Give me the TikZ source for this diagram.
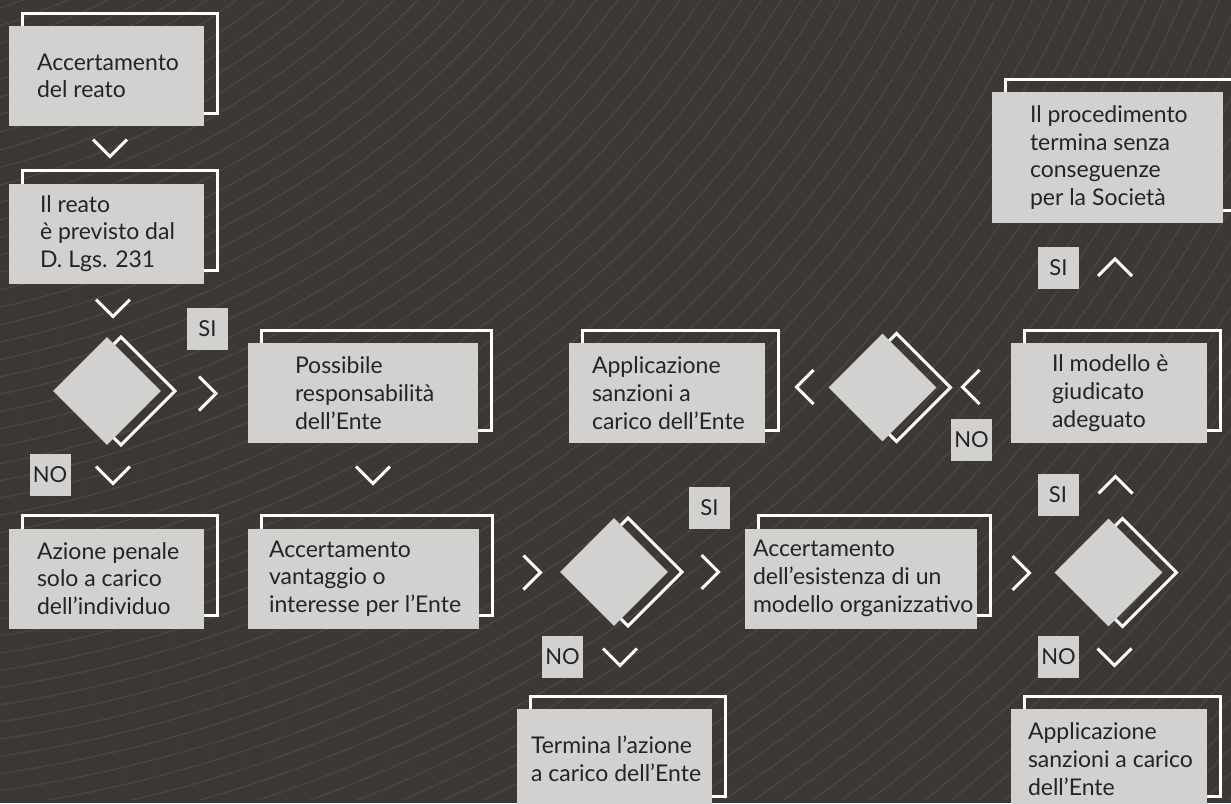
\documentclass[tikz,border=0pt]{standalone}
\usepackage{fontspec}
\setmainfont{Lato}
\usetikzlibrary{positioning,shapes.geometric,shadows}
\definecolor{bgdark}{HTML}{3C3935}
\definecolor{bgline}{HTML}{4A4642}
\definecolor{boxgray}{HTML}{D3D1CF}
\definecolor{ink}{HTML}{262422}
\tikzset{
	stepbox/.style={rectangle, fill=boxgray, minimum height=100pt, inner sep=0pt,
		general shadow={shadow xshift=13pt, shadow yshift=13pt, draw=white, line width=3pt}},
	choice/.style={diamond, fill=boxgray, minimum width=108pt, minimum height=108pt, inner sep=0pt,
		general shadow={shadow xshift=14pt, shadow yshift=0pt, draw=white, line width=3pt}},
	answer/.style={fill=boxgray, minimum width=41pt, minimum height=42pt, inner sep=0pt,
		text=ink, font=\fontsize{22pt}{24pt}\selectfont},
	boxtext/.style={align=left, inner sep=0pt, text=ink, font=\fontsize{23pt}{27.7pt}\selectfont},
	chevline/.style={draw=white, line width=3pt, line join=miter},
	chev/.pic={\draw[chevline] (-17pt,-8.5pt) -- (0pt,8.5pt) -- (17pt,-8.5pt);}
}
\begin{document}
\begin{tikzpicture}[x=1pt,y=-1pt]
	\useasboundingbox (0,0) rectangle (1231,803);
	\fill[bgdark] (0,0) rectangle (1231,803);
	\begin{scope}
		\clip (0,0) rectangle (1231,799);
		\coordinate (hub) at (-200,-600);
		\foreach \r in {640,657,...,2010}
			\draw[bgline, line width=1.3pt] (hub) ++(20:\r) arc[start angle=-20, end angle=-85, radius=\r pt];
	\end{scope}
	\node (acc) [stepbox, minimum width=195pt] at (106.5,76) {};
	\node (acct) [boxtext, right=28pt of acc.west] {Accertamento\\del reato};
	\node (reato) [stepbox, minimum width=195pt] at (106.5,233.5) {};
	\node (reatot) [boxtext, right=31pt of reato.west] {Il reato\\è previsto dal\\D. Lgs. 231};
	\node (poss) [stepbox, minimum width=230pt] at (363,393) {};
	\node (posst) [boxtext, right=47pt of poss.west] {Possibile\\responsabilità\\dell’Ente};
	\node (azione) [stepbox, minimum width=195pt] at (106.5,578.5) {};
	\node (azionet) [boxtext, right=28pt of azione.west] {Azione penale\\solo a carico\\dell’individuo};
	\node (vant) [stepbox, minimum width=231pt] at (363.5,578.5) {};
	\node (vantt) [boxtext, right=21pt of vant.west] {Accertamento\\vantaggio o\\interesse per l’Ente};
	\node (esist) [stepbox, minimum width=232pt] at (861,578.5) {};
	\node (esistt) [boxtext, right=8pt of esist.west] {Accertamento\\dell’esistenza di un\\modello organizzativo};
	\node (termina) [stepbox, minimum width=195pt] at (614.5,759) {};
	\node (terminat) [boxtext, right=14pt of termina.west] {Termina l’azione\\a carico dell’Ente};
	\node (sanzb) [stepbox, minimum width=196pt] at (1109,759) {};
	\node (sanzbt) [boxtext, right=17pt of sanzb.west] {Applicazione\\sanzioni a carico\\dell’Ente};
	\node (adeg) [stepbox, minimum width=196pt] at (1109,393) {};
	\node (adegt) [boxtext, right=41pt of adeg.west] {Il modello è\\giudicato\\adeguato};
	\node (sanzm) [stepbox, minimum width=196pt] at (667,393) {};
	\node (sanzmt) [boxtext, right=23pt of sanzm.west] {Applicazione\\sanzioni a\\carico dell’Ente};
	\node (proc) [stepbox, minimum width=231pt, minimum height=131pt] at (1107.5,157.5) {};
	\node (proct) [boxtext, right=38pt of proc.west] {Il procedimento\\termina senza\\conseguenze\\per la Società};
	\node (d1) [choice] at (107,391) {};
	\node (d2) [choice] at (614,572) {};
	\node (d3) [choice] at (1108.5,572.5) {};
	\node (d4) [choice] at (882.5,387.5) {};
	\node (si1) [answer] at (207.5,329) {SI};
	\node (no1) [answer] at (50,474.5) {NO};
	\node (si2) [answer] at (709.5,508) {SI};
	\node (no2) [answer] at (562.5,656.5) {NO};
	\node (si3) [answer] at (1058,495) {SI};
	\node (no3) [answer] at (1058.5,657) {NO};
	\node (si4) [answer] at (1058.5,268) {SI};
	\node (no4) [answer] at (971.5,439.5) {NO};
	\pic [rotate=180] at (110,148) {chev};
	\pic [rotate=180] at (113,308) {chev};
	\pic [rotate=-90] at (207.5,393.5) {chev};
	\pic [rotate=180] at (113,475) {chev};
	\pic [rotate=180] at (373,475) {chev};
	\pic [rotate=-90] at (532,572.5) {chev};
	\pic [rotate=-90] at (710,572) {chev};
	\pic [rotate=180] at (620,657) {chev};
	\pic [rotate=-90] at (1021,573) {chev};
	\pic at (1115.5,485) {chev};
	\pic [rotate=180] at (1114.5,657) {chev};
	\pic at (1115,267.5) {chev};
	\pic [rotate=90] at (971,387) {chev};
	\pic [rotate=90] at (805,387) {chev};
\end{tikzpicture}
\end{document}
